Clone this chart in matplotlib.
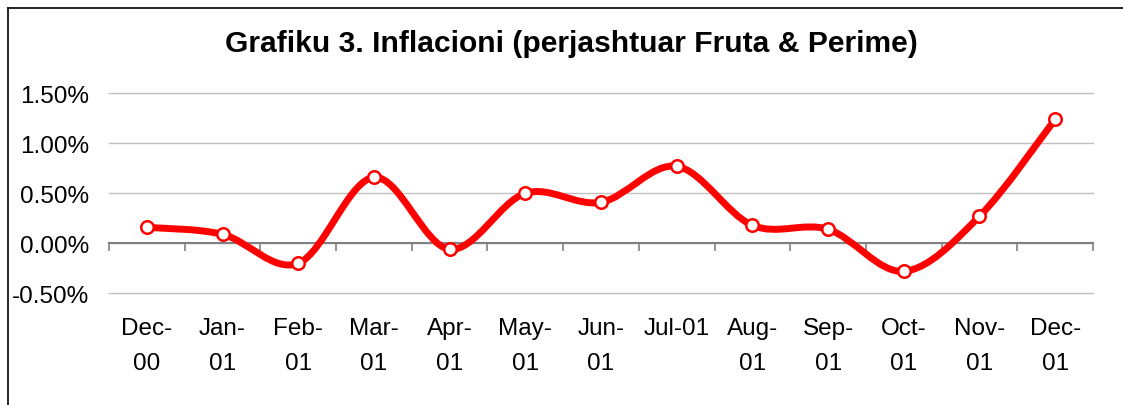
import numpy as np
import matplotlib
matplotlib.use("Agg")
import matplotlib.pyplot as plt
from matplotlib.path import Path
from matplotlib.patches import PathPatch
from matplotlib.lines import Line2D
from matplotlib.ticker import FuncFormatter

plt.rcParams['font.family'] = ['Liberation Sans', 'DejaVu Sans']

title = "Grafiku 3. Inflacioni (perjashtuar Fruta & Perime)"
categories = ["Dec-\n00", "Jan-\n01", "Feb-\n01", "Mar-\n01", "Apr-\n01", "May-\n01",
              "Jun-\n01", "Jul-01", "Aug-\n01", "Sep-\n01", "Oct-\n01", "Nov-\n01", "Dec-\n01"]
inflation = [0.16, 0.09, -0.20, 0.66, -0.06, 0.50, 0.41, 0.77, 0.18, 0.14, -0.28, 0.27, 1.24]
yticks = [-0.5, 0.0, 0.5, 1.0, 1.5]

W, H = 1123, 406
fig = plt.figure(figsize=(W / 100, H / 100), dpi=100)
ax = fig.add_axes([109 / W, 1 - 294.3 / H, (1093 - 109) / W, (294.3 - 94.3) / H])

n = len(inflation)
x = np.arange(n)
y = np.array(inflation)

# smoothed line (Catmull-Rom style Bezier, like Excel's smoothing)
verts = [(x[0], y[0])]
codes = [Path.MOVETO]
for i in range(n - 1):
    p0 = (x[max(i - 1, 0)], y[max(i - 1, 0)])
    p1 = (x[i], y[i])
    p2 = (x[i + 1], y[i + 1])
    p3 = (x[min(i + 2, n - 1)], y[min(i + 2, n - 1)])
    c1 = (p1[0] + (p2[0] - p0[0]) / 6, p1[1] + (p2[1] - p0[1]) / 6)
    c2 = (p2[0] - (p3[0] - p1[0]) / 6, p2[1] - (p3[1] - p1[1]) / 6)
    verts += [c1, c2, p2]
    codes += [Path.CURVE4] * 3
ax.add_patch(PathPatch(Path(verts, codes), facecolor='none', edgecolor='#ff0000',
                       lw=5, capstyle='round', joinstyle='round', zorder=3))
ax.plot(x, y, linestyle='none', marker='o', markersize=9, markerfacecolor='white',
        markeredgecolor='#ff0000', markeredgewidth=1.8, zorder=4)

ax.set_xlim(-0.5, n - 0.5)
ax.set_ylim(-0.5, 1.5)
ax.set_yticks(yticks)
ax.yaxis.set_major_formatter(FuncFormatter(lambda v, p: f"{v:.2f}%"))
ax.tick_params(axis='y', length=0, pad=14, labelsize=17.5)
ax.grid(axis='y', color='#c0c0c0', lw=1)
for gl in ax.get_ygridlines():
    gl.set_clip_on(False)
ax.set_axisbelow(True)

for s in ['top', 'right', 'left']:
    ax.spines[s].set_visible(False)
ax.spines['bottom'].set_position(('data', 0))
ax.spines['bottom'].set_color('#808080')
ax.spines['bottom'].set_linewidth(1.5)
ax.spines['bottom'].set_zorder(2)
ax.set_xticks(np.arange(-0.5, n, 1.0))
ax.tick_params(axis='x', length=6, width=1.2, color='#808080', direction='out', labelbottom=False)

sec = ax.secondary_xaxis(0.0)
sec.set_xticks(x)
sec.set_xticklabels(categories, fontsize=17.5, linespacing=1.75, va='top')
sec.tick_params(length=0, pad=17)
sec.spines['bottom'].set_visible(False)

fig.text(571.7 / W, 1 - 52 / H, title, ha='center', va='baseline', fontsize=21.6, fontweight='bold')

fig.add_artist(Line2D([8 / W, 8 / W], [0, 1 - 9 / H], color='black', lw=1.2))
fig.add_artist(Line2D([8 / W, 1], [1 - 9 / H, 1 - 9 / H], color='black', lw=1.2))

fig.savefig("out.png", dpi=100)
